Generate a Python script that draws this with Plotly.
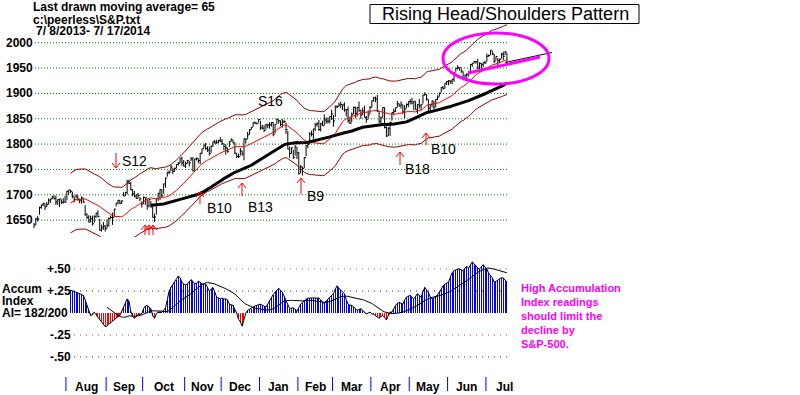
import pandas as pd
import plotly.graph_objects as go

# ---------------- data ----------------
holidays = ["2013-09-02", "2013-11-28", "2013-12-25", "2014-01-01", "2014-01-20",
            "2014-02-17", "2014-04-18", "2014-05-26", "2014-07-04"]

close = [
    1640.5,1652.3,1652.6,1675.0,1680.2,1682.5,1676.3,1680.9,1689.4,1692.1,1695.5,1692.4,1685.9,1690.3,1691.7,1685.3,1686.0,1685.7,
    1706.9,1709.7,1707.1,1697.4,1690.9,1697.5,1691.4,1689.5,1694.2,1685.4,1661.3,1655.8,1646.1,1652.4,1642.8,1657.0,1663.5,1656.8,1630.5,1635.0,1638.2,1633.0,
    1639.8,1653.1,1655.1,1655.2,1671.7,1684.0,1689.1,1683.4,1688.0,1697.6,1704.8,1725.5,1722.3,1709.9,1701.8,1697.4,1692.8,1698.7,1691.8,1681.6,
    1695.0,1693.9,1678.7,1690.5,1676.1,1655.5,1656.4,1692.6,1703.2,1710.1,1698.1,1721.5,1733.2,1744.5,1744.7,1754.7,1746.4,1752.1,1759.8,1762.1,1772.0,1763.3,1756.5,
    1761.6,1767.9,1763.0,1770.5,1747.2,1770.6,1771.9,1767.7,1782.0,1790.6,1798.2,1791.5,1787.9,1781.4,1795.9,1804.8,1802.5,1802.8,1807.2,1805.8,
    1800.9,1795.2,1792.8,1785.0,1805.1,1808.4,1802.6,1782.2,1775.5,1775.3,1786.5,1781.0,1810.7,1809.6,1818.3,1828.0,1833.3,1842.0,1841.4,1841.1,1848.4,
    1832.0,1831.4,1826.8,1837.9,1837.5,1838.1,1842.4,1819.2,1838.9,1848.4,1845.9,1838.7,1843.8,1844.9,1828.5,1790.3,1781.6,1792.5,1774.2,1794.2,1782.6,
    1741.9,1755.2,1751.6,1773.4,1797.0,1799.8,1819.8,1819.3,1829.8,1838.6,1840.8,1828.8,1839.8,1836.3,1847.6,1845.1,1845.2,1854.3,1859.5,
    1845.7,1873.9,1873.8,1877.0,1878.0,1877.2,1867.6,1868.2,1846.3,1841.1,1858.8,1872.3,1860.8,1872.0,1866.5,1857.4,1865.6,1852.6,1849.0,1857.6,1872.3,
    1885.5,1890.9,1888.8,1865.1,1845.0,1852.0,1872.2,1833.1,1815.7,1830.6,1843.0,1862.3,1864.9,1871.9,1879.6,1875.4,1878.6,1863.4,1869.4,1878.3,1884.0,
    1883.7,1881.1,1884.7,1867.7,1878.2,1875.6,1878.5,1896.7,1897.5,1888.5,1870.9,1877.9,1885.1,1872.8,1888.0,1892.5,1900.5,1911.9,1909.8,1920.0,1923.6,
    1925.0,1924.2,1927.9,1940.5,1949.4,1951.3,1950.8,1943.9,1930.1,1936.2,1937.8,1942.0,1957.0,1959.5,1962.9,1962.6,1950.0,1959.5,1957.2,1961.0,1960.2,
    1973.3,1974.6,1985.4,1977.7,1963.7,1972.8,1964.7,1967.6,1977.1,1973.3,1981.6,1958.1,
]

high = [
    1644.7,1654.2,1657.9,1676.6,1680.2,1684.5,1683.0,1686.0,1693.0,1692.1,1697.6,1698.8,1698.4,1690.9,1691.9,1690.9,1693.2,1698.0,
    1707.9,1709.7,1709.2,1706.0,1697.0,1700.7,1699.0,1691.5,1696.8,1693.4,1679.5,1663.6,1659.6,1658.9,1658.9,1659.6,1664.9,1669.5,1652.5,1641.2,1646.4,1640.6,
    1651.4,1655.7,1659.0,1664.8,1672.4,1684.1,1689.9,1689.9,1688.6,1704.9,1705.5,1729.4,1729.9,1725.2,1711.2,1707.6,1701.7,1703.9,1695.5,1687.1,
    1696.6,1693.9,1692.4,1691.0,1687.5,1676.8,1662.9,1692.6,1703.4,1711.0,1711.0,1721.8,1733.4,1745.3,1747.8,1759.3,1752.7,1753.7,1759.8,1764.9,1772.1,1775.2,1768.5,
    1765.7,1768.8,1767.0,1774.5,1774.5,1770.8,1773.4,1771.8,1782.4,1791.0,1798.2,1802.3,1795.7,1795.2,1797.2,1804.8,1808.4,1808.4,1808.4,1813.6,
    1810.0,1800.1,1799.8,1792.8,1806.0,1811.5,1808.4,1802.9,1782.5,1780.9,1792.2,1786.8,1811.1,1810.9,1823.8,1829.8,1833.3,1842.8,1844.9,1842.5,1849.4,
    1845.9,1838.2,1837.2,1840.1,1840.0,1843.2,1843.2,1843.5,1839.3,1850.8,1847.8,1846.5,1849.3,1846.9,1842.4,1826.0,1795.0,1793.9,1788.8,1798.8,1793.9,
    1784.8,1758.7,1755.8,1774.1,1798.0,1799.9,1823.5,1826.6,1830.1,1841.7,1842.9,1847.5,1842.0,1846.1,1858.7,1852.7,1852.6,1854.5,1867.9,
    1857.2,1876.2,1876.5,1881.9,1883.6,1877.9,1882.4,1868.4,1874.4,1852.4,1862.3,1873.8,1874.1,1873.5,1884.0,1867.9,1871.9,1875.9,1855.6,1866.6,1875.2,
    1885.8,1893.2,1893.8,1897.3,1864.0,1854.5,1872.4,1872.5,1835.1,1834.2,1844.0,1862.3,1869.6,1871.9,1884.9,1879.8,1884.1,1877.7,1877.0,1880.0,1884.0,
    1888.6,1891.3,1884.9,1884.4,1878.8,1889.1,1878.6,1897.1,1902.2,1898.1,1888.0,1878.3,1886.0,1884.9,1888.8,1896.3,1901.3,1912.3,1914.5,1920.0,1924.0,
    1925.9,1925.1,1928.6,1941.7,1949.4,1955.6,1950.9,1949.3,1943.4,1937.3,1939.3,1943.7,1957.7,1959.9,1963.9,1963.7,1968.2,1961.3,1959.9,1961.0,1964.2,
    1978.6,1976.7,1985.6,1984.2,1977.7,1972.9,1969.8,1968.7,1979.9,1982.5,1983.9,1979.6,
]

low = [
    1634.2,1640.2,1647.7,1660.7,1672.3,1677.9,1670.0,1676.0,1681.0,1684.0,1690.9,1691.0,1680.0,1680.0,1676.0,1681.9,1682.4,1684.9,
    1689.0,1700.7,1703.5,1693.0,1684.8,1693.0,1688.0,1683.3,1682.6,1684.5,1658.6,1652.6,1645.8,1646.1,1639.4,1645.0,1654.8,1656.0,1629.1,1627.5,1630.9,1627.5,
    1633.4,1637.4,1653.1,1640.6,1656.9,1677.0,1681.0,1681.9,1682.2,1697.6,1697.6,1700.4,1721.1,1708.9,1697.1,1694.9,1691.9,1693.1,1687.1,1674.9,
    1682.1,1680.3,1670.4,1675.0,1674.9,1655.0,1646.5,1660.9,1688.0,1690.0,1695.5,1702.0,1714.1,1735.7,1740.6,1747.0,1740.5,1745.5,1752.5,1757.7,1762.5,1757.2,1755.7,
    1752.7,1761.6,1755.8,1766.8,1746.2,1747.6,1767.8,1762.2,1760.6,1780.2,1790.8,1788.4,1784.7,1777.2,1783.0,1794.7,1800.8,1800.8,1802.0,1803.9,
    1798.6,1787.9,1779.1,1783.4,1793.8,1805.1,1801.4,1780.1,1772.3,1772.5,1777.4,1777.1,1767.9,1801.4,1810.3,1818.8,1828.0,1834.0,1839.8,1838.8,1842.4,
    1827.7,1829.1,1823.7,1828.7,1831.4,1830.4,1834.4,1815.5,1821.1,1840.0,1840.3,1835.2,1832.4,1840.9,1820.1,1790.3,1772.9,1781.2,1770.5,1777.4,1770.5,
    1739.7,1743.1,1737.9,1752.6,1776.0,1791.8,1800.8,1815.1,1809.2,1825.8,1834.4,1826.0,1824.9,1835.6,1836.8,1840.2,1840.7,1841.1,1847.7,
    1834.4,1853.7,1871.1,1874.2,1870.6,1867.0,1863.9,1854.4,1841.9,1839.6,1842.8,1858.9,1850.8,1854.6,1863.5,1849.7,1857.4,1852.6,1842.1,1850.4,1859.7,
    1872.3,1883.8,1882.6,1863.3,1841.5,1837.5,1852.4,1830.9,1814.4,1815.8,1816.3,1846.1,1856.7,1863.2,1872.6,1873.9,1870.2,1859.7,1850.6,1870.8,1872.8,
    1878.0,1878.5,1866.9,1867.7,1859.8,1870.1,1867.0,1880.0,1896.0,1885.5,1862.4,1864.8,1872.4,1868.1,1873.3,1886.9,1893.6,1902.2,1907.3,1909.8,1916.6,
    1915.9,1918.8,1918.6,1922.9,1942.4,1947.2,1944.6,1940.1,1925.8,1927.7,1926.9,1933.6,1939.3,1952.3,1959.2,1958.4,1948.3,1947.4,1944.7,1952.3,1958.2,
    1962.3,1972.6,1975.9,1975.7,1959.5,1965.3,1952.9,1959.6,1968.5,1965.3,1975.7,1955.6,
]

# Accumulation Index (first 20 days not drawn)
accum = [None] * 20 + [
    .26,.25,.245,.235,.23,.22,.21,.20,.15,.09,
    .03,-.03,-.02,.01,-.02,-.045,-.07,-.10,-.13,-.155,
    -.15,-.12,-.11,-.09,-.08,-.06,-.04,-.03,.02,.06,
    .13,.16,.14,.02,-.04,-.06,-.04,-.015,-.015,-.01,
    .05,.08,.085,.07,.05,-.03,-.06,-.01,.01,.01,
    .01,.03,.06,.15,.25,.29,.32,.35,.38,.42,
    .40,.35,.33,.32,.33,.36,.38,.36,.33,.34,
    .36,.35,.33,.33,.33,.29,.25,.27,.29,.24,
    .18,.17,.16,.17,.16,.16,.15,.10,.09,.086,
    .04,0.0,-.07,-.10,-.15,-.08,0.0,.03,.04,.05,
    .067,.08,.086,.09,.10,.09,.08,.067,.10,.14,
    .18,.21,.235,.26,.28,.26,.235,.19,.14,.09,
    .05,.055,.06,.04,.02,.06,.10,.12,.14,.16,
    .17,.17,.17,.17,.17,.17,.17,.15,.12,.11,
    .14,.16,.18,.20,.22,.27,.31,.28,.26,.23,
    .22,.15,.10,.09,.086,.07,.05,.03,.04,.05,
    .03,.01,-.01,.00,.01,-.01,-.015,-.03,-.05,-.06,
    -.04,-.03,-.05,-.08,-.03,.01,.01,.05,.086,.11,
    .12,.11,.10,.15,.18,.19,.20,.18,.16,.19,
    .22,.20,.18,.24,.29,.26,.235,.18,.16,.17,
    .18,.21,.235,.27,.31,.33,.34,.35,.42,.46,
    .48,.49,.50,.50,.49,.48,.51,.53,.51,.55,
    .58,.56,.53,.51,.50,.53,.55,.52,.50,.45,
    .43,.40,.35,.36,.37,.39,.40,.40,.37,.35,
]

price_ticks = [1650, 1700, 1750, 1800, 1850, 1900, 1950, 2000]
ai_ticks = [0.5, 0.25, -0.25, -0.5]
ai_tick_labels = ["+.50", "+.25", "-.25", "-.50"]
month_names = ["Aug", "Sep", "Oct", "Nov", "Dec", "Jan", "Feb", "Mar", "Apr", "May", "Jun", "Jul"]
note_lines = ["High Accumulation", "Index readings", "should limit the", "decline by", "S&amp;P-500."]

# ---------------- derived ----------------
dates = [d for d in pd.bdate_range("2013-07-08", "2014-07-17") if d.strftime("%Y-%m-%d") not in holidays]
n = len(close)
assert len(dates) == n == len(high) == len(low) == len(accum), (len(dates), n, len(high), len(low), len(accum))
idx = list(range(n))

s = pd.Series(close)
ma21 = s.rolling(21).mean()
ma65 = s.rolling(65).mean()
upper = ma21 * 1.035
lower = ma21 * 0.965
ai_s = pd.Series([float('nan') if v is None else v for v in accum])
ai_ma = ai_s.rolling(21).mean()

# month boundaries
month_start = []
for i in range(1, n):
    if dates[i].month != dates[i - 1].month:
        month_start.append(i)

W, H = 800, 395
def PX(x): return x / W
def PY(y): return 1 - y / H

fig = go.Figure()

# OHLC-style bars (high-low + close tick)
bx, by = [], []
for i in idx:
    bx += [i, i, None, i, i + 0.9, None]
    by += [low[i], high[i], None, close[i], close[i], None]
fig.add_trace(go.Scatter(x=bx, y=by, mode="lines", line=dict(color="black", width=1),
                         hoverinfo="skip", yaxis="y"))
fig.add_trace(go.Scatter(x=idx, y=upper, mode="lines", line=dict(color="#8E0000", width=1), yaxis="y"))
fig.add_trace(go.Scatter(x=idx, y=lower, mode="lines", line=dict(color="#8E0000", width=1), yaxis="y"))
fig.add_trace(go.Scatter(x=idx, y=ma21, mode="lines", line=dict(color="#FF0000", width=1), yaxis="y"))
fig.add_trace(go.Scatter(x=idx, y=ma65, mode="lines", line=dict(color="black", width=3), yaxis="y"))

# Accumulation index
ai_colors = ["#0000FF" if (v is not None and v >= 0) else "#FF0000" for v in accum]
fig.add_trace(go.Bar(x=idx, y=accum, width=0.55, marker=dict(color=ai_colors, line=dict(width=0)),
                     yaxis="y2"))
fig.add_trace(go.Scatter(x=idx, y=accum, mode="lines", line=dict(color="black", width=1), yaxis="y2"))
fig.add_trace(go.Scatter(x=idx, y=ai_ma, mode="lines", line=dict(color="black", width=1), yaxis="y2"))

shapes = []
annotations = []
BOLD = dict(family="Liberation Sans, Arial", size=12, color="black")

# price grid + labels
for v in price_ticks:
    shapes.append(dict(type="line", xref="paper", yref="y", x0=PX(35), x1=PX(508), y0=v, y1=v,
                       line=dict(color="#008000", width=1, dash="1px,2px"), layer="below"))
    annotations.append(dict(xref="paper", yref="y", x=PX(34.5), y=v, text="<b>%d</b>" % v,
                            showarrow=False, xanchor="right", yanchor="middle", font=BOLD))

# AI grid + labels
grid_cols = ["#777777", "#333333", "#C0306A", "#333333"]
for v, lab, c in zip(ai_ticks, ai_tick_labels, grid_cols):
    shapes.append(dict(type="line", xref="paper", yref="y2", x0=PX(74), x1=PX(510), y0=v, y1=v,
                       line=dict(color=c, width=1, dash="1px,5px"), layer="below"))
    annotations.append(dict(xref="paper", yref="y2", x=PX(73), y=v, text="<b>%s</b>" % lab,
                            showarrow=False, xanchor="right", yanchor="middle", font=BOLD))

# month ticks + labels
for k, m in enumerate(month_start):
    shapes.append(dict(type="line", xref="x", yref="paper", x0=m - 0.5, x1=m - 0.5,
                       y0=PY(391), y1=PY(377), line=dict(color="#0000FF", width=1)))
    if k + 1 < len(month_start):
        cx = (m + month_start[k + 1]) / 2 - 0.5
    else:
        cx = m + 9.5
    annotations.append(dict(xref="x", yref="paper", x=cx, y=PY(386.5), text="<b>%s</b>" % month_names[k],
                            showarrow=False, xanchor="center", yanchor="middle", font=BOLD))

# header texts
for txt, yy in [("Last drawn moving average= 65", 7.5), (r"c:\peerless\S&amp;P.txt", 19.5),
                ("7/ 8/2013- 7/ 17/2014", 31.5)]:
    annotations.append(dict(xref="paper", yref="paper", x=PX(31 if yy < 30 else 34), y=PY(yy),
                            text="<b>%s</b>" % txt, showarrow=False, xanchor="left",
                            yanchor="middle", font=BOLD))

# title box
shapes.append(dict(type="rect", xref="paper", yref="paper", x0=PX(370), x1=PX(639), y0=PY(23.5), y1=PY(4.5),
                   line=dict(color="black", width=1), fillcolor="white"))
annotations.append(dict(xref="paper", yref="paper", x=PX(505), y=PY(14), text="Rising Head/Shoulders Pattern",
                        showarrow=False, xanchor="center", yanchor="middle",
                        font=dict(family="Liberation Sans, Arial", size=18, color="black")))

# AI panel left labels
for txt, yy in [("Accum", 289), ("Index", 301), ("AI= 182/200", 313)]:
    annotations.append(dict(xref="paper", yref="paper", x=PX(0), y=PY(yy), text="<b>%s</b>" % txt,
                            showarrow=False, xanchor="left", yanchor="middle", font=BOLD))

# magenta note
for k, txt in enumerate(note_lines):
    annotations.append(dict(xref="paper", yref="paper", x=PX(519), y=PY(288 + 14 * k), text="<b>%s</b>" % txt,
                            showarrow=False, xanchor="left", yanchor="middle",
                            font=dict(family="Liberation Sans, Arial", size=11, color="#FF00FF")))

# signal labels
SIG = dict(family="Liberation Sans, Arial", size=14, color="black")
for txt, xx, yy in [("S12", 120, 161), ("S16", 256, 100.5), ("B10", 205, 208), ("B13", 246, 207),
                    ("B9", 305, 196), ("B18", 403, 169), ("B10", 429, 149)]:
    annotations.append(dict(xref="paper", yref="paper", x=PX(xx), y=PY(yy), text=txt, showarrow=False,
                            xanchor="left", yanchor="middle", font=SIG))

def arrow(x, tip, tail):
    d = 5 if tail > tip else -5
    p = "M %f,%f L %f,%f M %f,%f L %f,%f L %f,%f" % (
        PX(x), PY(tail), PX(x), PY(tip),
        PX(x - 4), PY(tip + d), PX(x), PY(tip), PX(x + 4), PY(tip + d))
    return dict(type="path", xref="paper", yref="paper", path=p, line=dict(color="#FF0000", width=1))

for x, tip, tail in [(116, 168, 153), (200, 192, 204), (242, 183, 196), (301, 178, 194),
                     (400, 152, 165), (426, 133, 145), (145, 225, 235), (149, 225, 235), (153, 225, 235)]:
    shapes.append(arrow(x, tip, tail))

# head/shoulders annotations
shapes.append(dict(type="line", xref="paper", yref="paper", x0=PX(505), y0=PY(62.5), x1=PX(552), y1=PY(52.5),
                   line=dict(color="black", width=1)))
shapes.append(dict(type="line", xref="paper", yref="paper", x0=PX(468), y0=PY(73), x1=PX(540), y1=PY(57),
                   line=dict(color="#FF00FF", width=3)))
shapes.append(dict(type="circle", xref="paper", yref="paper", x0=PX(443), x1=PX(549), y0=PY(84), y1=PY(33),
                   line=dict(color="#FF00FF", width=3)))

fig.update_layout(
    width=W, height=H, autosize=False,
    margin=dict(l=0, r=0, t=0, b=0, pad=0),
    paper_bgcolor="white", plot_bgcolor="white",
    showlegend=False, hovermode=False, bargap=0,
    xaxis=dict(range=[-34 / 1.826, (W - 34) / 1.826], visible=False, fixedrange=True),
    yaxis=dict(domain=[0.4, 1], range=[2000 - (237 - 42.7) / 0.507, 2000 + 42.7 / 0.507],
               visible=False, fixedrange=True),
    yaxis2=dict(domain=[0, 0.4], range=[-(395 - 313) / 88, (313 - 237) / 88],
                visible=False, fixedrange=True),
    shapes=shapes, annotations=annotations,
)

fig.write_html("out.html", config={"displayModeBar": False, "staticPlot": True})

# remove the browser's default 8px body margin so the figure sits at the page origin
with open("out.html", "r", encoding="utf-8") as f:
    html = f.read()
html = html.replace("<body>", '<body style="margin:0;padding:0;overflow:hidden">', 1)
with open("out.html", "w", encoding="utf-8") as f:
    f.write(html)
